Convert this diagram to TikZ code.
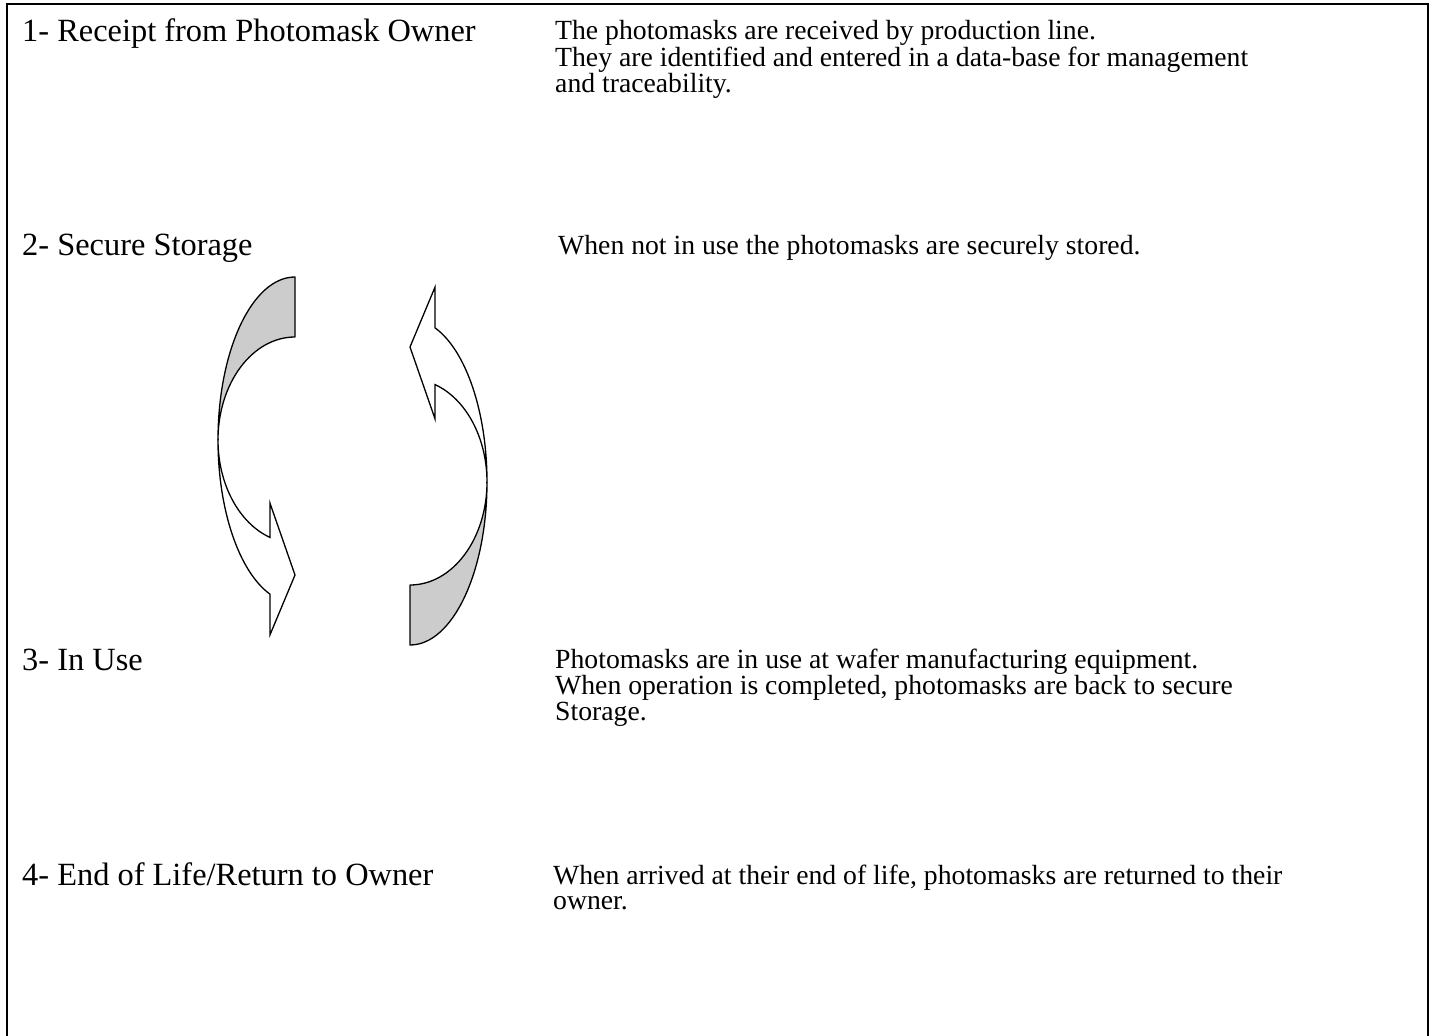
\documentclass[tikz,border=0pt]{standalone}
\usepackage{fontspec}
\setmainfont{Liberation Serif}
\newcommand\headfont{\fontsize{32.4}{34}\selectfont}
\newcommand\bodyfont{\fontsize{27.7}{25}\selectfont}
\begin{document}
\begin{tikzpicture}[x=1pt,y=-1pt,
  heading/.style={anchor=base west,inner sep=0pt,font=\headfont},
  bodytext/.style={anchor=base west,inner sep=0pt,font=\bodyfont},
  frameline/.style={line width=2pt},
  bandgray/.style={fill=black!20,draw=black,line width=1.3pt,line join=round},
  bandwhite/.style={fill=white,draw=black,line width=1.3pt,line join=miter},
  curvedarrow/.pic={
    \path[bandgray] (0,-163) arc[start angle=-90,end angle=-180,x radius=77,y radius=163]
      arc[start angle=180,end angle=270,x radius=77,y radius=103] -- cycle;
    \path[bandwhite] (-77,0) arc[start angle=180,end angle=109,x radius=77,y radius=163]
      -- (-25.07,195) -- (0,135) -- (-25.07,63) -- (-25.07,97.39)
      arc[start angle=109,end angle=180,x radius=77,y radius=103] -- cycle;
  }]
\useasboundingbox (0,0) rectangle (1433,1036);
\draw[frameline] (7,1040) -- (7,4) -- (1428,4) -- (1428,1040);

\node[heading] (h1) at (22,41) {1- Receipt from Photomask Owner};
\node[bodytext] (b1) at (555,39) {\begin{tabular}[t]{@{}l@{}}The photomasks are received by production line.\\They are identified and entered in a data-base for management\\and traceability.\end{tabular}};

\node[heading] (h2) at (22,255) {2- Secure Storage};
\node[bodytext] (b2) at (558,254) {When not in use the photomasks are securely stored.};

\node[heading] (h3) at (22,670) {3- In Use};
\node[bodytext] (b3) at (555,668) {\begin{tabular}[t]{@{}l@{}}Photomasks are in use at wafer manufacturing equipment.\\When operation is completed, photomasks are back to secure\\Storage.\end{tabular}};

\node[heading] (h4) at (22,885) {4- End of Life/Return to Owner};
\node[bodytext] (b4) at (553,884) {\begin{tabular}[t]{@{}l@{}}When arrived at their end of life, photomasks are returned to their\\owner.\end{tabular}};

\pic (downarrow) at (295,440) {curvedarrow};
\pic[rotate=180] (uparrow) at (410,482) {curvedarrow};
\end{tikzpicture}
\end{document}
